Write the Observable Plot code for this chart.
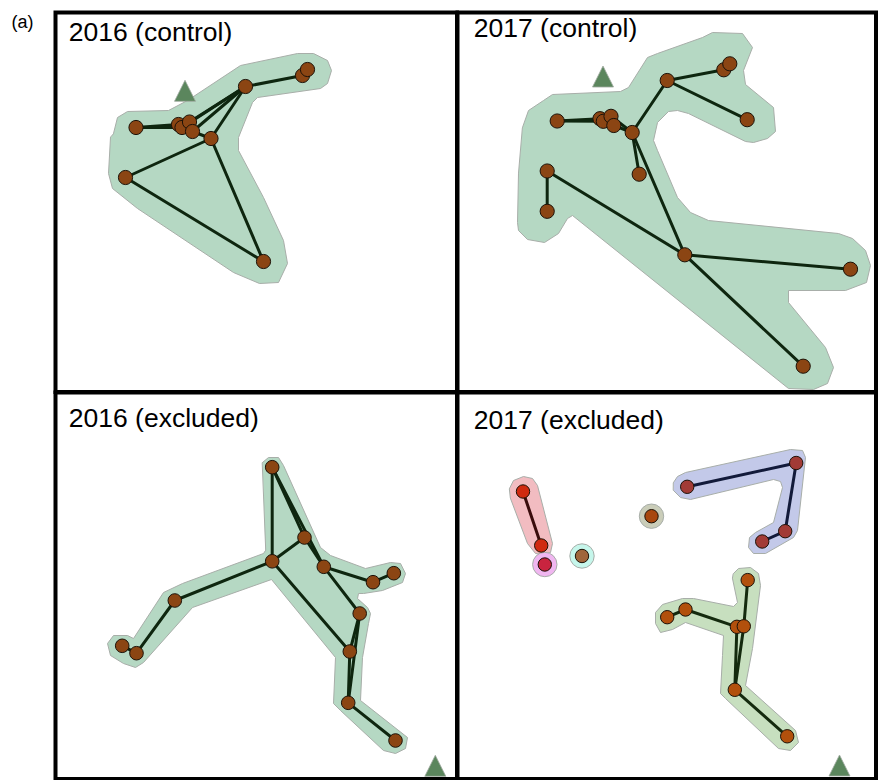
<!DOCTYPE html>
<html>
<head>
<meta charset="utf-8">
<script src="https://cdn.jsdelivr.net/npm/d3@7"></script>
<script src="https://cdn.jsdelivr.net/npm/@observablehq/plot@0.6"></script>
<style>
  body { margin: 0; background: #fff; }
  #wrap { position: relative; width: 882px; height: 780px; overflow: hidden; background: #fff;
          font-family: "Liberation Sans", Arial, Helvetica, sans-serif; }
  #wrap svg { position: absolute; }
  #tag { position: absolute; left: 11.5px; top: 13px; font-size: 18px; line-height: 1; color: #000; }
</style>
</head>
<body>
<div id="wrap"><div id="tag">(a)</div></div>
<script>
// ---------------- data ----------------
const panelTitles = ["2016 (control)", "2017 (control)", "2016 (excluded)", "2017 (excluded)"];

// 2016 (control)
const tlNodes = [
  {id: "n1", x: 80.5, y: 115}, {id: "c1", x: 123, y: 112}, {id: "c2", x: 126.5, y: 115},
  {id: "c3", x: 134, y: 109.5}, {id: "c4", x: 137, y: 119}, {id: "n2", x: 155.5, y: 126},
  {id: "n3", x: 190, y: 74}, {id: "n4", x: 247, y: 63}, {id: "n5", x: 252, y: 57},
  {id: "n6", x: 70, y: 165}, {id: "n7", x: 208, y: 249}
];
const tlEdges = [["n1","c1"],["n1","c2"],["c3","n3"],["c4","n3"],["c2","n3"],["c4","n2"],
  ["n2","n3"],["n3","n4"],["n2","n6"],["n2","n7"],["n6","n7"]];
const tlHull = [[58,121],[62,105],[72,99],[113,98],[132,88],[185,53],[242,41],[258,41],[272,48],[276,58],
  [272,71],[265,76],[202,85],[197,90],[183,125],[183,138],[208,185],[228,228],[232,251],[223,270],[204,271],
  [178,260],[82,196],[57,176],[53,161],[55,125]];
const tlSite = {x: 129.5, y: 78.3};

// 2017 (control)
const trNodes = [
  {id: "m1", x: 99.7, y: 108.5}, {id: "d1", x: 142.5, y: 106.2}, {id: "d2", x: 145.8, y: 108.8},
  {id: "d3", x: 153.5, y: 103.8}, {id: "d4", x: 156.3, y: 113}, {id: "m2", x: 174.7, y: 120},
  {id: "m3", x: 209.7, y: 68}, {id: "m4", x: 266.3, y: 57.3}, {id: "m5", x: 272.3, y: 51.3},
  {id: "m6", x: 289.7, y: 107.2}, {id: "m7", x: 181.7, y: 161.7}, {id: "m8", x: 89.7, y: 158.5},
  {id: "m9", x: 89.7, y: 198.8}, {id: "m10", x: 227.3, y: 242.3}, {id: "m11", x: 393, y: 256.7},
  {id: "m12", x: 345.7, y: 353.7}
];
const trEdges = [["m1","d1"],["m1","d2"],["d4","m2"],["d3","m2"],["m2","m3"],["m3","m4"],["m3","m6"],
  ["m2","m7"],["m2","m10"],["m8","m9"],["m8","m10"],["m10","m11"],["m10","m12"]];
const trHull = [[65,115],[71,98],[86,88],[95,82],[163,79],[171,75],[190,45],[200,41],[245,25],[255,20],
  [285,21],[295,35],[286,58],[288,72],[316,95],[318,119],[310,126],[296,130],[288,129],[231,101],[220,98],
  [211,99],[200,110],[196,128],[200,138],[220,185],[233,200],[251,208],[381,221],[395,226],[408,238],
  [413,253],[409,270],[388,278],[331,278],[331,290],[368,335],[376,355],[370,371],[356,377],[331,376],
  [115,203],[110,206],[101,221],[87,230],[70,227],[61,218],[60,210],[61,161]];
const trSite = {x: 145.5, y: 64};

// 2016 (excluded)
const blNodes = [
  {id: "b1", x: 216.7, y: 74.7}, {id: "b2", x: 249, y: 145}, {id: "b3", x: 216.7, y: 168.8},
  {id: "b4", x: 268.3, y: 174.3}, {id: "b5", x: 317.5, y: 189.7}, {id: "b6", x: 338.3, y: 180.7},
  {id: "b7", x: 119.3, y: 208}, {id: "b8", x: 66.7, y: 253.3}, {id: "b9", x: 81, y: 260.7},
  {id: "b10", x: 304.2, y: 221}, {id: "b11", x: 294.3, y: 259}, {id: "b12", x: 292.7, y: 310.3},
  {id: "b13", x: 340, y: 348}
];
const blEdges = [["b1","b3"],["b1","b2"],["b2","b4"],["b1","b4"],["b2","b3"],["b3","b7"],["b7","b9"],
  ["b8","b9"],["b3","b11"],["b4","b5"],["b5","b6"],["b4","b10"],["b10","b11"],["b10","b12"],
  ["b11","b12"],["b12","b13"]];
const blHull = [[207,70],[213,65],[223,65],[228,73],[265,155],[275,163],[310,176],[335,170],[345,171],
  [350,181],[347,190],[327,198],[308,201],[303,201],[302,206],[312,215],[315,221],[313,231],[307,265],
  [305,308],[352,345],[350,356],[340,361],[328,358],[285,318],[278,311],[280,265],[216,187],[137,215],
  [88,270],[80,275],[68,271],[55,263],[52,251],[58,243],[72,243],[78,246],[108,200],[127,191],[208,161],[210,158]];
const blSite = {x: 379.8, y: 373.3};

// 2017 (excluded): several groups
const brNodes = [
  {id: "r1", group: "red", x: 65.5, y: 99}, {id: "r2", group: "red", x: 83.7, y: 153},
  {id: "p1", group: "pink", x: 87.3, y: 172},
  {id: "q1", group: "cyan", x: 124.5, y: 163.5},
  {id: "o1", group: "olive", x: 194, y: 123.7},
  {id: "u1", group: "blue", x: 229.7, y: 94.3}, {id: "u2", group: "blue", x: 338.7, y: 70.5},
  {id: "u3", group: "blue", x: 327.7, y: 138.7}, {id: "u4", group: "blue", x: 304.7, y: 149},
  {id: "g1", group: "green", x: 290.2, y: 187.6}, {id: "g2", group: "green", x: 228, y: 217},
  {id: "g3", group: "green", x: 209.7, y: 224.7}, {id: "g4", group: "green", x: 279.4, y: 234.3},
  {id: "g5", group: "green", x: 286.3, y: 233.8}, {id: "g6", group: "green", x: 277.3, y: 297.3},
  {id: "g7", group: "green", x: 329.7, y: 343.8}
];
const brEdges = [["r1","r2"],["u1","u2"],["u2","u3"],["u3","u4"],["g3","g2"],["g2","g4"],["g1","g5"],
  ["g4","g6"],["g5","g6"],["g6","g7"]];
const brRedHull = [[52,96],[56,88],[66,84],[75,86],[80,93],[95,151],[93,160],[86,162],[78,161],[70,151],[53,106]];
const brBlueHull = [[216,90],[220,84],[228,80],[333,57],[345,58],[348,65],[340,138],[336,145],[308,161],
  [296,161],[291,155],[292,145],[298,140],[316,130],[325,95],[323,89],[316,87],[233,107],[223,105],[216,98]];
const brGreenHull = [[276,181],[281,176],[293,175],[301,181],[303,193],[295,256],[288,293],[338,338],
  [341,350],[333,358],[321,356],[268,306],[263,301],[265,263],[266,243],[228,230],[215,237],[203,240],
  [198,231],[198,220],[205,212],[225,206],[236,206],[276,214],[280,210],[275,186]];
const brSingles = ["p1", "q1", "o1"];
const brSite = {x: 382, y: 373};

// ---------------- styles ----------------
const groupStyle = {
  main:  {hull: "#b5d8c3", node: "#8b4513", edge: "#0e260f"},
  red:   {hull: "#f2bcc1", node: "#d02a10", edge: "#3a0c0c"},
  pink:  {hull: "#f0b6f0", node: "#c9243f", edge: "#3a0c0c"},
  cyan:  {hull: "#c6f6eb", node: "#a0663b", edge: "#222"},
  olive: {hull: "#cacdb9", node: "#a8470e", edge: "#222"},
  blue:  {hull: "#c3c9e9", node: "#a23b36", edge: "#121a3a"},
  green: {hull: "#c7dfbf", node: "#b2500c", edge: "#142a0e"}
};
const hullStroke = "#a8aea9";

const isoTriangle = {
  draw(ctx, size) {
    const s = Math.sqrt(size / Math.PI) * 2.5, h = s / 2;
    ctx.moveTo(0, -h); ctx.lineTo(h, h); ctx.lineTo(-h, h); ctx.closePath();
  }
};

const panels = [
  {left: 55,  top: 12,  w: 401.5, h: 379.5, tdx: 13.3, tdy: 28.3, r: 7.1, title: panelTitles[0],
   nodes: tlNodes, edges: tlEdges, hulls: [{pts: tlHull, g: "main"}], singles: [], site: tlSite},
  {left: 457, top: 12,  w: 418.5, h: 379.5, tdx: 16.3, tdy: 24.7, r: 7.1, title: panelTitles[1],
   nodes: trNodes, edges: trEdges, hulls: [{pts: trHull, g: "main"}], singles: [], site: trSite},
  {left: 55,  top: 392, w: 401.5, h: 386.5, tdx: 13.3, tdy: 34, r: 6.8, title: panelTitles[2],
   nodes: blNodes, edges: blEdges, hulls: [{pts: blHull, g: "main"}], singles: [], site: blSite},
  {left: 457, top: 392, w: 418.5, h: 386.5, tdx: 16.3, tdy: 36.3, r: 6.7, title: panelTitles[3],
   nodes: brNodes, edges: brEdges,
   hulls: [{pts: brRedHull, g: "red"}, {pts: brBlueHull, g: "blue"}, {pts: brGreenHull, g: "green"}],
   singles: brSingles, site: brSite}
];

const wrap = document.getElementById("wrap");
for (const p of panels) {
  const byId = new Map(p.nodes.map(n => [n.id, n]));
  const gOf = n => groupStyle[n.group || "main"];
  const marks = [];
  for (const h of p.hulls) {
    marks.push(Plot.line(h.pts, {x: d => d[0], y: d => d[1], curve: "linear-closed",
      fill: groupStyle[h.g].hull, stroke: hullStroke, strokeWidth: 1}));
  }
  if (p.singles.length) {
    marks.push(Plot.dot(p.singles.map(id => byId.get(id)), {x: "x", y: "y", r: 12.2,
      fill: d => gOf(d).hull, stroke: hullStroke, strokeWidth: 1}));
  }
  marks.push(Plot.link(p.edges, {
    x1: e => byId.get(e[0]).x, y1: e => byId.get(e[0]).y,
    x2: e => byId.get(e[1]).x, y2: e => byId.get(e[1]).y,
    stroke: e => gOf(byId.get(e[0])).edge, strokeWidth: 3, strokeLinecap: "round"
  }));
  marks.push(Plot.dot(p.nodes, {x: "x", y: "y", r: p.r, fill: d => gOf(d).node,
    stroke: "#1c1208", strokeWidth: 1}));
  marks.push(Plot.dot([p.site], {x: "x", y: "y", r: 8.4, symbol: isoTriangle,
    fill: "#5b865d", stroke: "#a0a8a0", strokeWidth: 0.8}));
  marks.push(Plot.text([p.title], {text: d => d, frameAnchor: "top-left", dx: p.tdx, dy: p.tdy,
    textAnchor: "start", lineAnchor: "bottom", fontSize: 26.5, fill: "#000"}));
  marks.push(Plot.frame({stroke: "#000", strokeWidth: 4}));

  const svg = Plot.plot({
    width: p.w + 4, height: p.h + 4, margin: 2,
    x: {domain: [0, p.w], range: [2, p.w + 2], axis: null},
    y: {domain: [0, p.h], range: [2, p.h + 2], axis: null},
    color: {type: "identity"},
    style: {background: "transparent", fontFamily: "'Liberation Sans', Arial, Helvetica, sans-serif", overflow: "visible"},
    marks
  });
  svg.style.left = (p.left - 2) + "px";
  svg.style.top = (p.top - 2) + "px";
  wrap.appendChild(svg);
}
</script>
</body>
</html>
